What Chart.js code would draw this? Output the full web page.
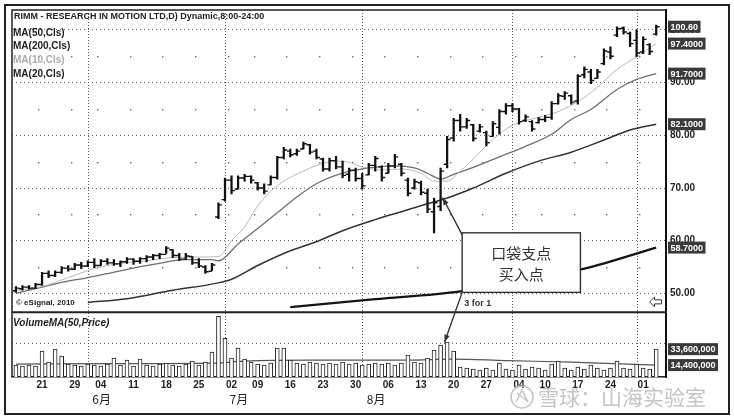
<!DOCTYPE html>
<html>
<head>
<meta charset="utf-8">
<script src="https://cdn.jsdelivr.net/npm/chart.js@4.4.0/dist/chart.umd.min.js"></script>
<style>
  html, body { margin: 0; padding: 0; background: #fff; }
  #wrap { width: 734px; height: 419px; }
</style>
</head>
<body>
<div id="wrap"><canvas id="rimm" width="734" height="419"></canvas></div>
<script>
// RIMM 日线, 2007-05-15 ~ 2007-10-03, 按交易日序号 0..98
const highs = [
  51.3,51.5,51.5,51.9,54.0,54.3,54.3,55.1,55.3,55.7,
  55.9,56.2,56.6,56.4,56.6,56.4,56.2,56.8,56.6,56.8,
  57.2,57.4,57.6,58.9,58.3,57.6,57.6,57.0,56.6,55.3,
  55.7,67.2,71.9,72.3,72.3,72.6,72.3,71.1,70.8,72.3,
  76.0,77.7,77.4,77.4,78.7,78.3,77.4,75.7,75.7,76.0,
  75.1,73.8,73.8,72.8,74.7,76.0,74.2,74.7,76.4,74.7,
  71.9,71.7,71.3,69.8,68.1,73.8,79.8,83.2,84.0,83.2,
  82.1,82.1,80.8,82.6,84.9,86.0,86.0,85.1,83.9,82.8,
  83.4,83.8,86.4,87.9,88.3,87.7,91.5,93.0,92.5,92.5,
  96.4,96.8,100.6,100.6,99.6,100.0,98.7,97.4,100.9
];
const lows = [
  50.2,50.6,50.8,50.9,51.5,53.0,53.2,53.8,54.2,54.5,
  54.7,55.1,54.9,55.3,55.5,55.3,55.1,55.7,55.5,55.7,
  56.0,56.4,56.6,57.6,56.8,56.2,56.4,55.5,54.9,53.8,
  54.3,64.2,67.5,68.9,69.8,71.3,70.9,69.6,68.9,70.6,
  71.7,75.5,75.9,76.2,77.4,76.4,75.5,73.2,73.2,73.6,
  71.9,71.3,71.3,69.8,72.5,73.2,71.3,72.8,73.8,72.3,
  68.5,69.8,68.7,65.3,61.5,65.7,73.8,78.9,80.8,81.3,
  78.9,80.6,78.0,79.8,80.2,84.0,84.5,82.1,82.6,80.8,
  82.3,82.6,83.0,85.9,86.8,85.9,85.9,90.9,89.8,90.8,
  93.4,94.5,98.7,99.2,96.8,94.9,95.5,95.3,99.0
];
const opens = [
  50.5,50.9,51.2,51.0,51.7,53.8,53.4,54.0,54.8,54.6,
  55.4,55.2,55.9,55.3,56.1,55.8,55.6,56.0,56.5,56.1,
  56.6,56.9,57.2,57.4,58.3,57.2,56.5,57.0,55.8,55.0,
  54.2,64.5,67.8,71.5,69.8,71.9,72.2,71.0,70.0,70.6,
  72.0,75.8,77.0,76.5,77.4,78.2,77.0,75.5,73.6,75.2,
  74.0,72.6,73.4,71.8,72.5,74.3,74.0,72.8,74.2,74.5,
  71.5,70.0,71.0,69.0,65.5,66.5,74.5,79.5,82.8,81.6,
  82.0,80.8,80.5,79.8,81.5,84.5,85.6,85.0,82.8,82.6,
  82.4,83.0,83.4,86.0,87.4,87.5,86.5,91.5,92.0,90.8,
  93.6,95.8,99.0,100.3,99.3,98.0,95.8,97.2,99.2
];
const closes = [
  51.0,51.2,51.0,51.7,53.8,53.4,54.0,54.8,54.6,55.4,
  55.2,55.9,55.3,56.1,55.8,55.6,56.0,56.5,56.1,56.6,
  56.9,57.2,57.4,58.6,57.2,56.5,57.1,55.8,55.2,54.1,
  55.4,66.8,71.5,69.5,71.9,72.2,71.5,70.0,69.4,72.0,
  75.8,77.2,76.3,77.0,78.4,76.8,75.8,73.6,75.2,74.0,
  72.4,73.4,71.8,70.4,74.3,75.6,72.0,74.2,75.9,72.8,
  69.0,71.2,69.2,66.0,67.2,73.2,79.2,82.8,81.6,82.8,
  79.4,81.6,78.6,82.2,84.5,85.6,85.0,82.6,83.5,81.2,
  83.0,83.4,86.0,87.5,88.0,86.3,91.2,92.5,90.4,92.0,
  96.0,95.0,100.2,99.6,97.4,95.6,98.2,95.9,100.6
];
// 成交量（百万股）
const volumes = [
  14.4,13.2,14.4,13.2,31.2,18.0,33.6,25.2,15.6,14.4,
  13.2,15.6,14.4,13.2,15.6,22.8,14.4,20.4,13.2,21.6,
  14.4,13.2,15.6,16.8,14.4,13.2,15.6,19.2,14.4,18.0,
  30.0,73.2,46.8,22.8,34.8,21.6,18.0,15.6,14.4,16.8,
  34.8,34.8,20.4,16.8,15.6,18.0,16.8,15.6,16.8,15.6,
  18.0,15.6,16.8,14.4,15.6,16.8,15.6,16.8,14.4,16.8,
  26.4,18.0,16.8,22.8,32.4,38.4,42.0,31.2,12.0,10.8,
  9.6,8.4,10.8,8.4,16.8,9.6,8.4,14.4,9.6,12.0,
  10.8,8.4,15.6,19.2,10.8,8.4,12.0,9.6,14.4,10.8,
  8.4,10.8,19.2,10.8,9.6,15.6,10.8,9.6,33.6
];

// 均线（按图读取的关键点）
const ma10X = [0,4,8,12,16,20,24,28,31,33,35,37,39,41,44,47,50,53,56,59,62,64,66,68,70,73,76,80,83,86,89,92,95,98];
const ma10 = [50.6,51.3,53.0,54.7,55.7,56.2,56.8,56.9,57.0,60.0,62.6,66.6,69.4,71.3,73.2,74.7,75.1,74.0,73.4,73.6,72.8,71.3,71.3,73.2,75.5,79.2,81.9,83.4,84.5,86.4,89.1,92.5,94.9,97.4];
const ma20X = [0,3,7,11,16,21,26,30,31,34,37,40,43,46,50,54,58,61,63,65,67,70,74,78,82,85,88,92,95,98];
const ma20 = [50.0,50.9,52.1,53.0,54.3,55.5,56.4,56.4,56.2,59.4,62.3,65.3,68.3,70.8,72.8,73.8,74.2,73.8,72.8,71.7,72.6,73.9,75.9,77.9,80.2,83.0,84.9,88.7,90.6,91.7];
const ma50X = [11,17,24,31,33,37,42,46,50,55,59,63,66,70,75,80,85,90,94,98];
const ma50 = [48.3,49.0,50.6,52.0,52.7,55.3,58.1,59.8,61.9,64.0,65.5,67.0,68.1,70.0,72.8,75.1,76.8,79.1,81.0,82.1];
const ma200X = [42,55,68,87,98];
const ma200 = [47.4,48.9,50.4,54.7,58.7];
const volMaX = [0,15,30,35,45,60,67,75,85,98];
const volMa = [15.6,16.2,16.8,19.2,20.4,20.4,21.6,19.8,18.0,14.4];

// 坐标轴刻度
const dateTickIdx = [4,9,13,18,23,28,33,37,42,47,52,57,62,67,72,77,81,86,91,96];
const dateTickLabels = ['21','29','04','11','18','25','02','09','16','23','30','06','13','20','27','04','10','17','24','01'];
const monthIdx = [12,33,54];
const monthLabels = ['6月','7月','8月'];
const monthEndIdx = [11,32,53,76,95];
const priceTicks = [50,60,70,80,90,100];
const priceMinor = [55,65,75,85,95];
const volTicks = [40];

// 标注（数据坐标）
const note = { x0: 68.3, x1: 86.4, top: 61.5, bottom: 50.2, lines: ['口袋支点', '买入点'] };
const pivotTip = { x: 65.3, y: 68.2 };
const volTip = { x: 65.6, v: 42 };

Chart.defaults.font.family = '"Liberation Sans", Arial, sans-serif';

const pts = (xs, ys) => ys.map((v, i) => ({ x: xs[i], y: v }));

function arrow(ctx, x1, y1, x2, y2) {
  ctx.beginPath(); ctx.moveTo(x1, y1); ctx.lineTo(x2, y2); ctx.stroke();
  const ang = Math.atan2(y2 - y1, x2 - x1);
  ctx.beginPath();
  ctx.moveTo(x2, y2);
  ctx.lineTo(x2 - 8 * Math.cos(ang - 0.35), y2 - 8 * Math.sin(ang - 0.35));
  ctx.lineTo(x2 - 8 * Math.cos(ang + 0.35), y2 - 8 * Math.sin(ang + 0.35));
  ctx.closePath(); ctx.fill();
}

function valueBox(ctx, x, yPix, text) {
  ctx.font = 'bold 9px "Liberation Sans", Arial, sans-serif';
  const w = ctx.measureText(text).width + 5;
  ctx.fillStyle = '#3a3a3a';
  ctx.fillRect(x, yPix - 6, w, 12);
  ctx.fillStyle = '#fff';
  ctx.textAlign = 'left'; ctx.textBaseline = 'middle';
  ctx.fillText(text, x + 2.5, yPix + 0.5);
}

const decor = {
  id: 'decor',
  beforeDatasetsDraw(chart) {
    const { ctx, chartArea: a, scales: { x, y } } = chart;
    ctx.save();
    ctx.strokeStyle = '#555'; ctx.lineWidth = 1; ctx.setLineDash([1, 2]);
    monthEndIdx.forEach(i => {
      const px = Math.round(x.getPixelForValue(i)) + 0.5;
      ctx.beginPath(); ctx.moveTo(px, a.top); ctx.lineTo(px, a.bottom); ctx.stroke();
    });
    ctx.setLineDash([]);
    ctx.fillStyle = '#666';
    priceMinor.forEach(v => {
      const py = Math.round(y.getPixelForValue(v));
      dateTickIdx.forEach(i => ctx.fillRect(Math.round(x.getPixelForValue(i)) - 4, py, 1.4, 1.4));
    });
    ctx.restore();
  },
  afterDraw(chart) {
    const { ctx, chartArea: a, scales: { x, y, yVol } } = chart;
    ctx.save();

    // 面板边框
    ctx.strokeStyle = '#222'; ctx.lineWidth = 1.5;
    ctx.beginPath();
    ctx.moveTo(a.left, a.bottom); ctx.lineTo(a.left, a.top); ctx.lineTo(a.right, a.top);
    ctx.stroke();
    ctx.lineWidth = 2;
    ctx.beginPath(); ctx.moveTo(a.left, yVol.top); ctx.lineTo(a.right + 1, yVol.top); ctx.stroke();
    ctx.strokeRect(5, 5, 724, 409);

    // 日期与月份
    ctx.fillStyle = '#222';
    ctx.textBaseline = 'middle';
    ctx.textAlign = 'center';
    ctx.font = 'bold 10px "Liberation Sans", Arial, sans-serif';
    dateTickIdx.forEach((v, i) => ctx.fillText(dateTickLabels[i], x.getPixelForValue(v), a.bottom + 8));
    ctx.textAlign = 'left';
    ctx.font = '12px "Noto Sans CJK SC", sans-serif';
    monthIdx.forEach((v, i) => ctx.fillText(monthLabels[i], x.getPixelForValue(v) - 2, a.bottom + 22));

    // 标题与图例
    ctx.textAlign = 'left'; ctx.textBaseline = 'middle';
    ctx.fillStyle = '#222';
    ctx.font = 'bold 9px "Liberation Sans", Arial, sans-serif';
    ctx.fillText('RIMM - RESEARCH IN MOTION LTD,D) Dynamic,8:00-24:00', a.left + 2, 17);
    ctx.font = 'bold 10px "Liberation Sans", Arial, sans-serif';
    ctx.fillText('MA(50,Cls)', a.left + 1, 33);
    ctx.fillText('MA(200,Cls)', a.left + 1, 46);
    ctx.fillStyle = '#aaa';
    ctx.fillText('MA(10,Cls)', a.left + 1, 60);
    ctx.fillStyle = '#222';
    ctx.fillText('MA(20,Cls)', a.left + 1, 74);
    ctx.font = 'bold 8px "Liberation Sans", Arial, sans-serif';
    ctx.fillText('© eSignal, 2010', a.left + 4, yVol.top - 10);
    ctx.font = 'italic bold 10px "Liberation Sans", Arial, sans-serif';
    ctx.fillText('VolumeMA(50,Price)', a.left + 1, yVol.top + 11);

    // 文字框与箭头
    const bx0 = x.getPixelForValue(note.x0), bx1 = x.getPixelForValue(note.x1);
    const by0 = y.getPixelForValue(note.top), by1 = y.getPixelForValue(note.bottom);
    ctx.fillStyle = '#333'; ctx.strokeStyle = '#333'; ctx.lineWidth = 1.4;
    arrow(ctx, bx0, by0 + 2, x.getPixelForValue(pivotTip.x), y.getPixelForValue(pivotTip.y));
    arrow(ctx, bx0, by1, x.getPixelForValue(volTip.x), yVol.getPixelForValue(volTip.v));
    ctx.fillStyle = '#fff';
    ctx.fillRect(bx0, by0, bx1 - bx0, by1 - by0);
    ctx.strokeRect(bx0, by0, bx1 - bx0, by1 - by0);
    ctx.fillStyle = '#333';
    ctx.textAlign = 'center';
    ctx.font = '15px "Noto Sans CJK SC", sans-serif';
    const bh = by1 - by0;
    ctx.fillText(note.lines[0], (bx0 + bx1) / 2, by0 + bh * 0.34);
    ctx.fillText(note.lines[1], (bx0 + bx1) / 2, by0 + bh * 0.7);

    ctx.textAlign = 'left';
    ctx.font = 'bold 9px "Liberation Sans", Arial, sans-serif';
    ctx.fillText('3 for 1', bx0 + 2, yVol.top - 9);

    // 右侧拆股标记
    const mx = x.getPixelForValue(97.6), my = y.getPixelForValue(48.4);
    ctx.fillStyle = '#fff'; ctx.strokeStyle = '#333'; ctx.lineWidth = 1;
    ctx.beginPath();
    ctx.moveTo(mx - 4, my); ctx.lineTo(mx + 1, my - 5); ctx.lineTo(mx + 1, my - 2);
    ctx.lineTo(mx + 8, my - 2); ctx.lineTo(mx + 8, my + 2); ctx.lineTo(mx + 1, my + 2);
    ctx.lineTo(mx + 1, my + 5); ctx.closePath(); ctx.fill(); ctx.stroke();

    // 右侧数值框
    const bxR = a.right + 2;
    const last = arr => arr[arr.length - 1];
    valueBox(ctx, bxR, y.getPixelForValue(last(closes)), last(closes).toFixed(2));
    valueBox(ctx, bxR, y.getPixelForValue(last(ma10)), last(ma10).toFixed(4));
    valueBox(ctx, bxR, y.getPixelForValue(last(ma20)), last(ma20).toFixed(4));
    valueBox(ctx, bxR, y.getPixelForValue(last(ma50)), last(ma50).toFixed(4));
    valueBox(ctx, bxR, y.getPixelForValue(last(ma200)), last(ma200).toFixed(4));
    valueBox(ctx, bxR, yVol.getPixelForValue(last(volumes)), Math.round(last(volumes) * 1e6).toLocaleString('en-US'));
    valueBox(ctx, bxR, yVol.getPixelForValue(last(volMa)), Math.round(last(volMa) * 1e6).toLocaleString('en-US'));

    // 水印
    ctx.strokeStyle = '#c4c4c4'; ctx.fillStyle = '#c4c4c4'; ctx.lineWidth = 1.5;
    ctx.beginPath(); ctx.arc(522, 397, 11, 0, Math.PI * 2); ctx.stroke();
    ctx.beginPath();
    ctx.moveTo(516, 402); ctx.lineTo(522, 390); ctx.lineTo(528, 402);
    ctx.moveTo(517, 393); ctx.lineTo(527, 401);
    ctx.stroke();
    ctx.font = '21px "Noto Sans CJK SC", sans-serif';
    ctx.textAlign = 'left'; ctx.textBaseline = 'middle';
    ctx.fillText('雪球：山海实验室', 538, 397);

    ctx.restore();
  }
};

const barIdx = closes.map((_, i) => i);

new Chart(document.getElementById('rimm'), {
  type: 'bar',
  data: {
    datasets: [
      {
        type: 'bar', label: 'HL', xAxisID: 'x', yAxisID: 'y',
        data: barIdx.map(i => ({ x: i, y: [lows[i], highs[i]] })),
        backgroundColor: '#111', barThickness: 1.6, grouped: false
      },
      {
        type: 'scatter', label: 'Open', xAxisID: 'x', yAxisID: 'y',
        data: barIdx.map(i => ({ x: i - 0.26, y: opens[i] })),
        pointStyle: 'line', pointRadius: 1.7, pointBorderWidth: 1.4,
        borderColor: '#111', pointHoverRadius: 0
      },
      {
        type: 'scatter', label: 'Close', xAxisID: 'x', yAxisID: 'y',
        data: barIdx.map(i => ({ x: i + 0.26, y: closes[i] })),
        pointStyle: 'line', pointRadius: 1.7, pointBorderWidth: 1.4,
        borderColor: '#111', pointHoverRadius: 0
      },
      {
        type: 'line', label: 'MA(10,Cls)', xAxisID: 'x', yAxisID: 'y',
        data: pts(ma10X, ma10), borderColor: '#b8b8b8', borderWidth: 1,
        pointRadius: 0, cubicInterpolationMode: 'monotone'
      },
      {
        type: 'line', label: 'MA(20,Cls)', xAxisID: 'x', yAxisID: 'y',
        data: pts(ma20X, ma20), borderColor: '#6e6e6e', borderWidth: 1.3,
        pointRadius: 0, cubicInterpolationMode: 'monotone'
      },
      {
        type: 'line', label: 'MA(50,Cls)', xAxisID: 'x', yAxisID: 'y',
        data: pts(ma50X, ma50), borderColor: '#333', borderWidth: 1.5,
        pointRadius: 0, cubicInterpolationMode: 'monotone'
      },
      {
        type: 'line', label: 'MA(200,Cls)', xAxisID: 'x', yAxisID: 'y',
        data: pts(ma200X, ma200), borderColor: '#151515', borderWidth: 2.3,
        pointRadius: 0, cubicInterpolationMode: 'monotone'
      },
      {
        type: 'bar', label: 'Volume', xAxisID: 'x', yAxisID: 'yVol',
        data: barIdx.map(i => ({ x: i, y: volumes[i] })),
        backgroundColor: '#fff', borderColor: '#222', borderWidth: 1,
        barThickness: 4, grouped: false
      },
      {
        type: 'line', label: 'Volume MA', xAxisID: 'x', yAxisID: 'yVol',
        data: pts(volMaX, volMa), borderColor: '#555', borderWidth: 1.2,
        pointRadius: 0, cubicInterpolationMode: 'monotone'
      }
    ]
  },
  options: {
    responsive: false,
    animation: false,
    events: [],
    layout: { padding: { left: 12, top: 8, right: 6, bottom: 0 } },
    plugins: { legend: { display: false }, tooltip: { enabled: false } },
    scales: {
      x: {
        type: 'linear', position: 'bottom', min: -0.6, max: 99.5, offset: false,
        grid: { display: false, offset: false },
        border: { display: true, color: '#222', width: 1.5 },
        afterBuildTicks: ax => { ax.ticks = dateTickIdx.map(v => ({ value: v })); },
        afterFit: ax => { ax.height = 42; },
        ticks: { display: false }
      },
      y: {
        type: 'linear', position: 'right', stack: 'panel', stackWeight: 304,
        min: 46.41, max: 103.77,
        grid: { color: '#666', lineWidth: 1, drawTicks: false },
        border: { display: true, color: '#111', width: 2, dash: [1, 3] },
        afterBuildTicks: ax => { ax.ticks = priceTicks.map(v => ({ value: v })); },
        afterFit: ax => { ax.width = 62; },
        ticks: {
          padding: 4, color: '#222', font: { size: 10, weight: 'bold' },
          callback: v => Number(v).toFixed(2)
        }
      },
      yVol: {
        type: 'linear', position: 'right', stack: 'panel', stackWeight: 65,
        min: 0, max: 78,
        grid: { color: '#666', lineWidth: 1, drawTicks: false },
        border: { display: true, color: '#111', width: 2, dash: [1, 3] },
        afterBuildTicks: ax => { ax.ticks = volTicks.map(v => ({ value: v })); },
        afterFit: ax => { ax.width = 62; },
        ticks: { padding: 4, color: '#222', font: { size: 9, weight: 'bold' }, callback: () => '' }
      }
    }
  },
  plugins: [decor]
});
</script>
</body>
</html>
